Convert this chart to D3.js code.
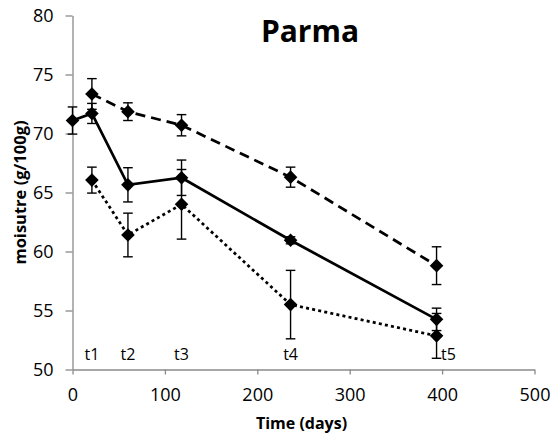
<!DOCTYPE html>
<html>
<head>
<meta charset="utf-8">
<script src="https://cdn.jsdelivr.net/npm/d3@7"></script>
<style>
  html, body { margin: 0; padding: 0; background: #fff; }
  svg { display: block; }
  text { font-family: "Open Sans", "Noto Sans", sans-serif; fill: #000; }
</style>
</head>
<body>
<div id="chart"></div>
<script>
// Sampling times (days) for the Parma hams
const daysSolid = [0, 21, 60, 118, 236, 394];
const moistureSolid = [71.1, 71.7, 65.65, 66.25, 60.95, 54.25];
const errSolid = [1.15, 0.85, 1.45, 1.5, 0.3, 0.95];

const daysDashed = [21, 60, 118, 236, 394];
const moistureDashed = [73.35, 71.85, 70.7, 66.3, 58.8];
const errDashed = [1.3, 0.75, 0.9, 0.85, 1.6];

const daysDotted = [21, 60, 118, 236, 394];
const moistureDotted = [66.05, 61.4, 64.0, 55.5, 52.85];
const errDotted = [1.1, 1.85, 2.95, 2.9, 1.9];

// Sampling-point annotations along the bottom
const stageLabels = ["t1", "t2", "t3", "t4", "t5"];
const stageDays = [21, 60, 118, 236, 394];

const xTicks = [0, 100, 200, 300, 400, 500];
const yTicks = [50, 55, 60, 65, 70, 75, 80];

const W = 554, H = 441;
const margin = { left: 72.5, right: 19.5, top: 15.5, bottom: 71.5 };

const svg = d3.select("#chart").append("svg")
  .attr("width", W).attr("height", H);

const x = d3.scaleLinear().domain([0, 500]).range([margin.left, W - margin.right]);
const y = d3.scaleLinear().domain([50, 80]).range([H - margin.bottom, margin.top]);

const axisColor = "#8a8a8a";

// X axis
const gx = svg.append("g")
  .attr("transform", `translate(0,${y(50)})`)
  .call(d3.axisBottom(x).tickValues(xTicks).tickSize(5).tickSizeOuter(0).tickPadding(13.5));
// Y axis
const gy = svg.append("g")
  .attr("transform", `translate(${x(0)},0)`)
  .call(d3.axisLeft(y).tickValues(yTicks).tickSize(7).tickSizeOuter(0).tickPadding(12));

[gx, gy].forEach(g => {
  g.select(".domain").attr("stroke", axisColor).attr("stroke-width", 1.3);
  g.selectAll(".tick line").attr("stroke", axisColor).attr("stroke-width", 1.3);
  g.selectAll(".tick text")
    .attr("fill", "#000")
    .style("font-family", '"Open Sans", "Noto Sans", sans-serif')
    .style("font-size", "18px");
});

// Axis titles
svg.append("text")
  .attr("x", 301.5).attr("y", 429)
  .attr("text-anchor", "middle")
  .style("font-weight", "bold").style("font-size", "16px")
  .text("Time (days)");

svg.append("text")
  .attr("transform", `translate(25.5,${(y(50) + y(80)) / 2}) rotate(-90)`)
  .attr("text-anchor", "middle")
  .style("font-weight", "bold").style("font-size", "16.5px")
  .text("moisutre (g/100g)");

// Chart title
svg.append("text")
  .attr("x", 310).attr("y", 42)
  .attr("text-anchor", "middle")
  .style("font-weight", "bold").style("font-size", "30px")
  .text("Parma");

const series = [
  { days: daysDashed, vals: moistureDashed, errs: errDashed, dash: "10,6", cap: "butt" },
  { days: daysDotted, vals: moistureDotted, errs: errDotted, dash: "3,3.2", cap: "butt" },
  { days: daysSolid, vals: moistureSolid, errs: errSolid, dash: null, cap: "butt" }
];

const line = d3.line().x(d => x(d.day)).y(d => y(d.v));
const diamond = d3.symbol().type(d3.symbolDiamond2 || d3.symbolDiamond).size(0);

series.forEach(s => {
  const pts = s.days.map((d, i) => ({ day: d, v: s.vals[i], e: s.errs[i] }));
  s.pts = pts;
  svg.append("path")
    .datum(pts)
    .attr("d", line)
    .attr("fill", "none")
    .attr("stroke", "#000")
    .attr("stroke-width", 2.75)
    .attr("stroke-linecap", s.cap)
    .attr("stroke-dasharray", s.dash);
});

// Error bars
const capHalf = 4.8;
series.forEach(s => {
  const g = svg.append("g").attr("stroke", "#000").attr("stroke-width", 1.4);
  s.pts.forEach(p => {
    const cx = x(p.day), y1 = y(p.v + p.e), y2 = y(p.v - p.e);
    g.append("line").attr("x1", cx).attr("x2", cx).attr("y1", y1).attr("y2", y2);
    g.append("line").attr("x1", cx - capHalf).attr("x2", cx + capHalf).attr("y1", y1).attr("y2", y1);
    g.append("line").attr("x1", cx - capHalf).attr("x2", cx + capHalf).attr("y1", y2).attr("y2", y2);
  });
});

// Diamond markers
const r = 6.8;
series.forEach(s => {
  svg.append("g").selectAll("path")
    .data(s.pts)
    .join("path")
    .attr("transform", d => `translate(${x(d.day)},${y(d.v)})`)
    .attr("d", `M0,${-r}L${r},0L0,${r}L${-r},0Z`)
    .attr("fill", "#000");
});

// Stage annotations
svg.append("g").selectAll("text")
  .data(stageLabels.map((t, i) => ({ t, day: stageDays[i], last: i === stageLabels.length - 1 })))
  .join("text")
  .attr("x", d => d.last ? x(d.day) + 4.5 : x(d.day))
  .attr("y", y(50) - 9.5)
  .attr("text-anchor", d => d.last ? "start" : "middle")
  .style("font-size", "16px")
  .text(d => d.t);
</script>
</body>
</html>
